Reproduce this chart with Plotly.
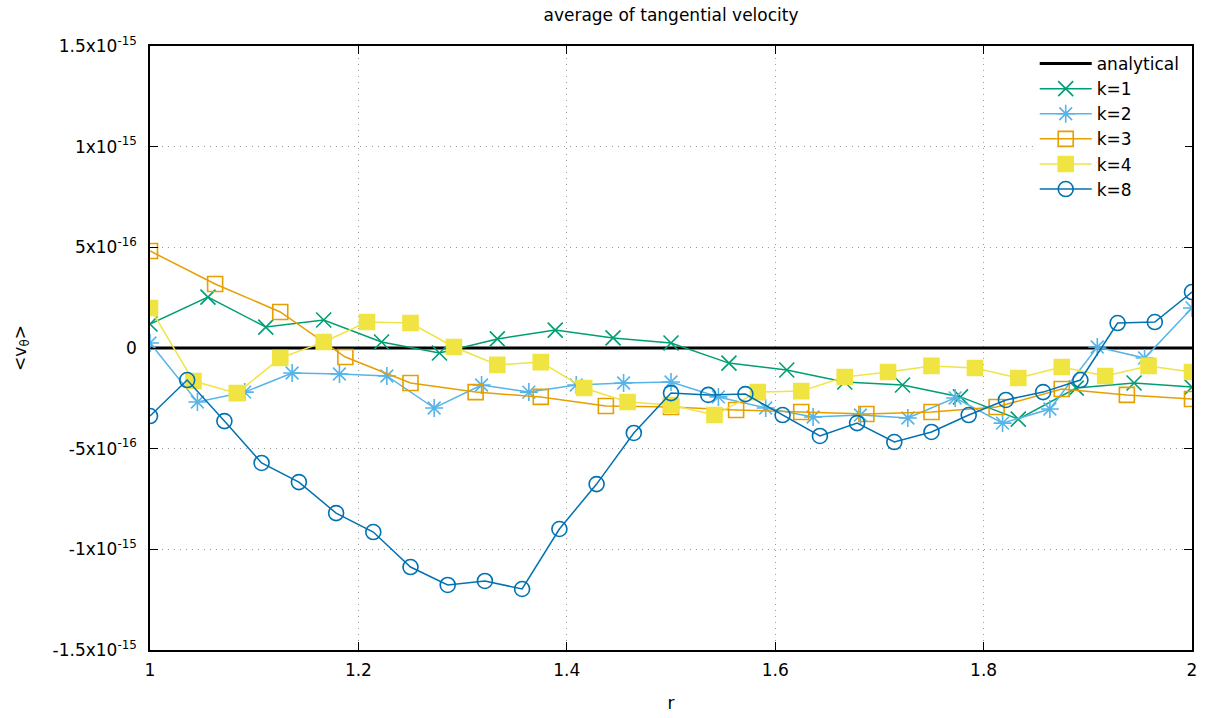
import plotly.graph_objects as go

E = 1e-16

analytical_r = [1.0, 2.0]
analytical_v = [0.0, 0.0]

k1_r = [1.0, 1.0556, 1.1111, 1.1667, 1.2222, 1.2778, 1.3333, 1.3889, 1.4444, 1.5,
        1.5556, 1.6111, 1.6667, 1.7222, 1.7778, 1.8333, 1.8889, 1.9444, 2.0]
k1_v = [1.19, 2.53, 1.04, 1.39, 0.30, -0.25, 0.45, 0.89, 0.50, 0.25,
        -0.75, -1.09, -1.69, -1.84, -2.43, -3.53, -1.99, -1.74, -1.94]

k2_r = [1.0, 1.0455, 1.0909, 1.1364, 1.1818, 1.2273, 1.2727, 1.3182, 1.3636, 1.4091,
        1.4545, 1.5, 1.5455, 1.5909, 1.6364, 1.6818, 1.7273, 1.7727, 1.8182, 1.8636,
        1.9091, 1.9545, 2.0]
k2_v = [0.25, -2.68, -2.19, -1.24, -1.29, -1.39, -2.98, -1.84, -2.19, -1.84,
        -1.74, -1.69, -2.43, -2.98, -3.43, -3.33, -3.48, -2.48, -3.73, -3.03,
        0.05, -0.50, 1.99]

k3_r = [1.0, 1.0625, 1.125, 1.1875, 1.25, 1.3125, 1.375, 1.4375, 1.5, 1.5625,
        1.625, 1.6875, 1.75, 1.8125, 1.875, 1.9375, 2.0]
k3_v = [4.82, 3.18, 1.79, -0.45, -1.74, -2.19, -2.43, -2.88, -2.93, -3.08,
        -3.18, -3.28, -3.18, -2.93, -2.04, -2.33, -2.53]

k4_r = [1.0, 1.0417, 1.0833, 1.125, 1.1667, 1.2083, 1.25, 1.2917, 1.3333, 1.375,
        1.4167, 1.4583, 1.5, 1.5417, 1.5833, 1.625, 1.6667, 1.7083, 1.75, 1.7917,
        1.8333, 1.875, 1.9167, 1.9583, 2.0]
k4_v = [1.99, -1.64, -2.24, -0.50, 0.30, 1.29, 1.24, 0.05, -0.84, -0.70,
        -1.99, -2.68, -2.83, -3.33, -2.19, -2.14, -1.44, -1.19, -0.89, -0.99,
        -1.49, -0.94, -1.39, -0.89, -1.19]

k8_r = [1.0, 1.0357, 1.0714, 1.1071, 1.1429, 1.1786, 1.2143, 1.25, 1.2857, 1.3214,
        1.3571, 1.3929, 1.4286, 1.4643, 1.5, 1.5357, 1.5714, 1.6071, 1.6429, 1.6786,
        1.7143, 1.75, 1.7857, 1.8214, 1.8571, 1.8929, 1.9286, 1.9643, 2.0]
k8_v = [-3.38, -1.59, -3.63, -5.71, -6.66, -8.20, -9.14, -10.88, -11.77, -11.57,
        -11.97, -8.99, -6.76, -4.22, -2.24, -2.33, -2.29, -3.33, -4.37, -3.73,
        -4.67, -4.17, -3.33, -2.58, -2.19, -1.59, 1.24, 1.29, 2.78]

x_ticks = [1.0, 1.2, 1.4, 1.6, 1.8, 2.0]
x_tick_text = ["1", "1.2", "1.4", "1.6", "1.8", "2"]
y_ticks = [1.5e-15, 1e-15, 5e-16, 0, -5e-16, -1e-15, -1.5e-15]
y_tick_text = ["1.5x10<sup>-15</sup>", "1x10<sup>-15</sup>", "5x10<sup>-16</sup>", "0",
               "-5x10<sup>-16</sup>", "-1x10<sup>-15</sup>", "-1.5x10<sup>-15</sup>"]

FONT = "DejaVu Sans"

fig = go.Figure()
fig.add_trace(go.Scatter(x=analytical_r, y=analytical_v, mode="lines", name="analytical",
                         line=dict(color="black", width=3)))

series = [
    ("k=1", k1_r, k1_v, "#009e73", "x-thin-open", 15),
    ("k=2", k2_r, k2_v, "#56b4e9", "asterisk-open", 15),
    ("k=3", k3_r, k3_v, "#e69f00", "square-open", 15),
    ("k=4", k4_r, k4_v, "#f0e442", "square", 15),
    ("k=8", k8_r, k8_v, "#0072b2", "circle-open", 15),
]
for name, r, v, col, sym, sz in series:
    fig.add_trace(go.Scatter(
        x=r, y=[val * E for val in v], mode="lines+markers", name=name,
        line=dict(color=col, width=1.5),
        marker=dict(symbol=sym, size=sz, color=col, line=dict(color=col, width=1.6)),
    ))

fig.update_layout(
    width=1211, height=718,
    margin=dict(l=150, r=19, t=46, b=68, autoexpand=False),
    paper_bgcolor="white", plot_bgcolor="white",
    font=dict(family=FONT, size=17, color="black"),
    title=dict(text="average of tangential velocity", x=0.5, xanchor="center", xref="paper",
               y=1 - 15 / 718, yanchor="middle", yref="container",
               font=dict(family=FONT, size=17, color="black")),
    showlegend=True,
    legend=dict(x=0.993, y=1.0, xanchor="right", yanchor="top",
                bgcolor="white", borderwidth=0, font=dict(size=17),
                itemwidth=52, tracegroupgap=0),
)
fig.update_xaxes(
    range=[1, 2], tickvals=x_ticks, ticktext=x_tick_text,
    showline=True, linecolor="black", linewidth=1.5, mirror="ticks",
    ticks="inside", ticklen=8, tickwidth=1.2, tickcolor="black",
    ticklabelstandoff=4, automargin=False,
    showgrid=True, gridcolor="#9a9a9a", gridwidth=1, griddash="1px,5px",
    zeroline=False,
    title=dict(text="r", font=dict(size=17), standoff=18),
)
fig.update_yaxes(
    range=[-1.5e-15, 1.5e-15], tickvals=y_ticks, ticktext=y_tick_text,
    showline=True, linecolor="black", linewidth=1.5, mirror="ticks",
    ticks="inside", ticklen=8, tickwidth=1.2, tickcolor="black",
    ticklabelstandoff=8, automargin=False,
    showgrid=True, gridcolor="#9a9a9a", gridwidth=1, griddash="1px,5px",
    zeroline=False,
    title=dict(text="&lt;v<sub>θ</sub>&gt;", font=dict(size=17), standoff=22),
)

fig.write_html("out.html")
